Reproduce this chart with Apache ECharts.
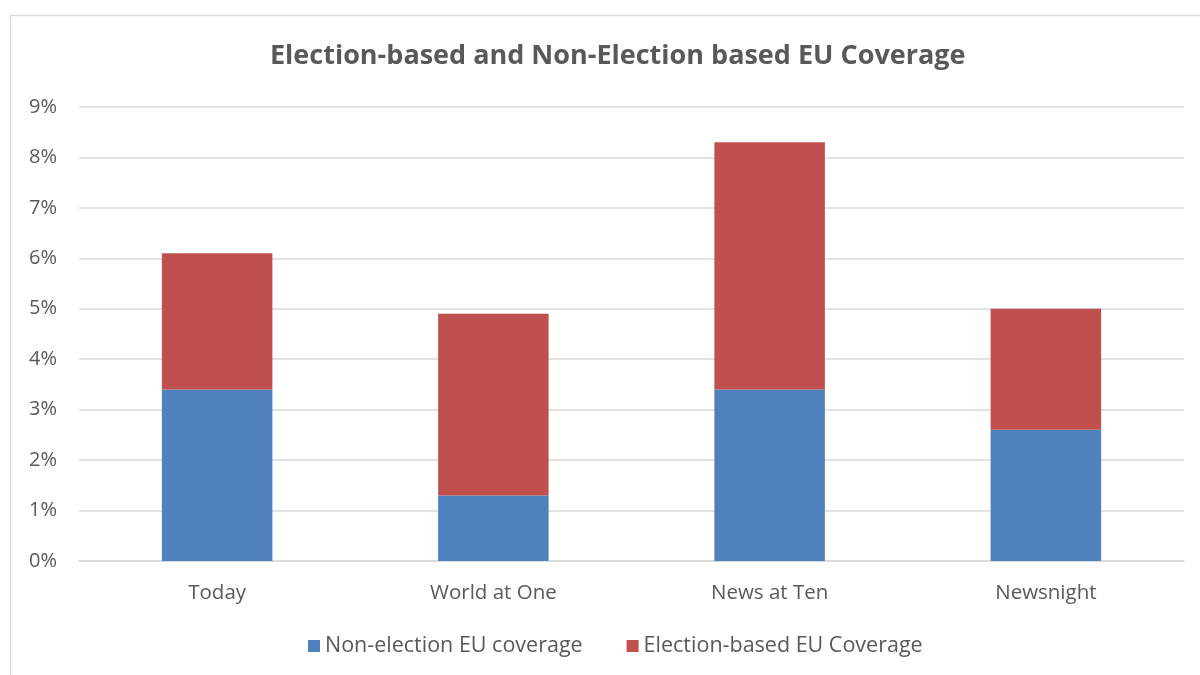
<!DOCTYPE html>
<html><head><meta charset="utf-8">
<script src="https://cdn.jsdelivr.net/npm/echarts@6/dist/echarts.min.js"></script>
<style>html,body{margin:0;padding:0;background:#fff}#c{width:1200px;height:675px}</style>
</head><body><div id="c"></div>
<script>
const categories = ['Today', 'World at One', 'News at Ten', 'Newsnight'];
const nonElection = [3.4, 1.3, 3.4, 2.6];
const electionBased = [2.7, 3.6, 4.9, 2.4];
const seriesNames = ['Non-election EU coverage', 'Election-based EU Coverage'];

const font = 'Open Sans, Liberation Sans, sans-serif';
const chart = echarts.init(document.getElementById('c'));
chart.setOption({
  animation: false,
  backgroundColor: '#fff',
  graphic: [{type: 'rect', shape: {x: 10.5, y: 15.5, width: 1200, height: 700}, style: {fill: 'none', stroke: '#d9d9d9', lineWidth: 1.5}, silent: true}],
  title: {text: 'Election-based and Non-Election based EU Coverage', left: 265, top: 38,
    textStyle: {fontFamily: font, fontSize: 27, fontWeight: 'bold', color: '#595959'}},
  legend: {bottom: 13, left: 303, itemWidth: 12, itemHeight: 12, itemGap: 44, icon: 'rect',
    textStyle: {fontFamily: font, fontSize: 21.5, color: '#595959'}, data: seriesNames},
  grid: {left: 79, right: 16, top: 107, bottom: 114},
  xAxis: {type: 'category', data: categories,
    axisLine: {lineStyle: {color: '#d9d9d9', width: 1.5}}, axisTick: {show: false},
    axisLabel: {fontFamily: font, fontSize: 20.5, color: '#595959', margin: 22}},
  yAxis: {type: 'value', min: 0, max: 9, interval: 1,
    axisLine: {show: false}, axisTick: {show: false},
    splitLine: {lineStyle: {color: '#d9d9d9', width: 1.5}},
    axisLabel: {fontFamily: font, fontSize: 20, color: '#595959', margin: 22, formatter: v => v + '%'}},
  series: [
    {name: seriesNames[0], type: 'bar', stack: 't', data: nonElection, barWidth: '40%', itemStyle: {color: '#4f81bd'}},
    {name: seriesNames[1], type: 'bar', stack: 't', data: electionBased, barWidth: '40%', itemStyle: {color: '#c0504d'}}
  ]
});
</script></body></html>
